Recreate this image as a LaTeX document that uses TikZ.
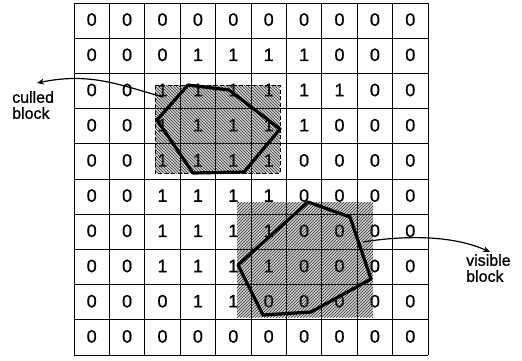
\documentclass[tikz,border=0pt]{standalone}
\usepackage{fontspec}
\setmainfont{Liberation Sans}
\newfontfamily\heavyfont[FakeBold=0.9]{Liberation Sans}
\usetikzlibrary{patterns,arrows.meta}
\begin{document}
\begin{tikzpicture}[x=1pt,y=-1pt,
  gridline/.style={line width=1pt,black},
  digit/.style={font=\heavyfont\fontsize{18}{18}\selectfont,inner sep=0pt},
  blockfill/.style={fill=gray!38},
  outline/.style={line width=3.2pt,line join=round},
  callout/.style={line width=1.2pt,-{Stealth[length=7pt,width=6pt]}},
  lbl/.style={font=\heavyfont\fontsize{16}{16}\selectfont,align=left,inner sep=0pt,anchor=north west}]
\useasboundingbox (0,0) rectangle (522,360);
\def\gx{74}\def\gy{3}\def\cw{35.4}\def\ch{35.2}
% block backgrounds
\fill[blockfill] (155,85) rectangle (280,173);
\fill[blockfill] (237,202) rectangle (373,317);
% grid
\foreach \i in {0,...,10}{
  \draw[gridline] ({\gx+\i*\cw},\gy) -- ({\gx+\i*\cw},{\gy+10*\ch});
  \draw[gridline] (\gx,{\gy+\i*\ch}) -- ({\gx+10*\cw},{\gy+\i*\ch});
}
% digits
\foreach \r/\vals in {0/{0,0,0,0,0,0,0,0,0,0},
                      1/{0,0,0,1,1,1,1,0,0,0},
                      2/{0,0,1,1,1,1,1,1,0,0},
                      3/{0,0,1,1,1,1,1,0,0,0},
                      4/{0,0,1,1,1,1,0,0,0,0},
                      5/{0,0,1,1,1,1,0,0,0,0},
                      6/{0,0,1,1,1,1,0,0,0,0},
                      7/{0,0,1,1,1,1,0,0,0,0},
                      8/{0,0,0,1,1,0,0,0,0,0},
                      9/{0,0,0,0,0,0,0,0,0,0}}{
  \foreach \v [count=\c from 0] in \vals{
    \node[digit] (d-\r-\c) at ({\gx+(\c+0.5)*\cw},{\gy+(\r+0.5)*\ch-1}) {\v};
  }
}
% culled block
\fill[pattern=north west lines,pattern color=black!80] (155,85) rectangle (280,173);
\draw[line width=1pt,dash pattern=on 4pt off 2.5pt] (155,85) rectangle (280,173);
\draw[outline] (188,85) -- (229,90) -- (280,129) -- (244,172) -- (193,173) -- (157,120) -- cycle;
% visible block
\fill[pattern=north east lines,pattern color=black!80] (237,202) rectangle (373,317);
\draw[outline] (308,202) -- (350,217) -- (371,279) -- (311,312) -- (263,315) -- (238,265) -- cycle;
% callouts
\coordinate (cs) at (163,97);
\coordinate (ct) at (37,83);
\coordinate (vs) at (363,242);
\coordinate (vt) at (490,252);
\draw[callout] (cs) .. controls (120,85) and (90,72) .. (ct);
\draw[callout] (vs) .. controls (400,236) and (450,234) .. (vt);
\node[lbl] (culled) at (12,91) {culled\\block};
\node[lbl] (visible) at (466,254) {visible\\block};
\end{tikzpicture}
\end{document}
